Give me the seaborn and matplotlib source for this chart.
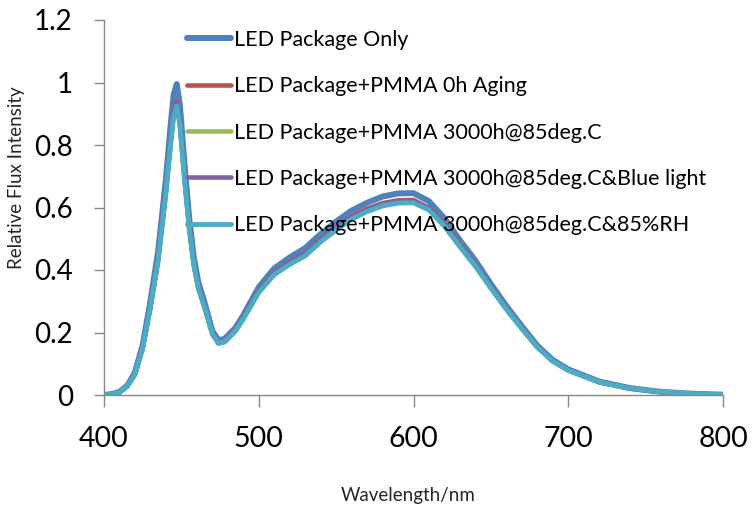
import matplotlib
matplotlib.use("Agg")
import matplotlib.pyplot as plt
import seaborn as sns
import pandas as pd

# wavelengths (nm)
wavelength = [400, 405, 410, 415, 420, 425, 430, 435, 440, 443, 445, 447, 449, 452, 455,
              458, 461, 465, 470, 474, 478, 485, 490, 500, 510, 520, 530, 540, 550, 560,
              570, 580, 590, 600, 610, 620, 630, 640, 650, 660, 670, 680, 690, 700, 720,
              740, 760, 780, 800]

led_only = [0.0, 0.003, 0.010, 0.030, 0.072, 0.160, 0.300, 0.460, 0.690, 0.860, 0.960, 0.995,
            0.930, 0.740, 0.570, 0.440, 0.360, 0.295, 0.205, 0.175, 0.180, 0.215, 0.255, 0.345,
            0.405, 0.440, 0.470, 0.515, 0.555, 0.590, 0.615, 0.635, 0.645, 0.646, 0.620, 0.565,
            0.495, 0.430, 0.355, 0.285, 0.220, 0.158, 0.112, 0.082, 0.043, 0.022, 0.010, 0.004,
            0.001]

pmma_0h = [0.0, 0.003, 0.009, 0.028, 0.067, 0.152, 0.283, 0.435, 0.655, 0.812, 0.905, 0.940,
           0.875, 0.700, 0.542, 0.420, 0.344, 0.283, 0.197, 0.166, 0.172, 0.208, 0.247, 0.334,
           0.391, 0.425, 0.452, 0.497, 0.536, 0.572, 0.596, 0.614, 0.623, 0.624, 0.599, 0.547,
           0.481, 0.416, 0.345, 0.276, 0.214, 0.154, 0.109, 0.080, 0.041, 0.021, 0.010, 0.004,
           0.001]

pmma_85c = [0.0, 0.003, 0.009, 0.028, 0.066, 0.150, 0.281, 0.431, 0.648, 0.803, 0.895, 0.930,
            0.868, 0.693, 0.537, 0.416, 0.341, 0.280, 0.195, 0.165, 0.170, 0.205, 0.244, 0.329,
            0.386, 0.419, 0.447, 0.492, 0.530, 0.565, 0.589, 0.607, 0.616, 0.617, 0.593, 0.541,
            0.476, 0.413, 0.343, 0.275, 0.213, 0.153, 0.108, 0.079, 0.041, 0.021, 0.010, 0.004,
            0.001]

pmma_85c_blue = [0.0, 0.003, 0.009, 0.028, 0.067, 0.151, 0.282, 0.433, 0.651, 0.807, 0.900, 0.935,
                 0.871, 0.697, 0.540, 0.418, 0.343, 0.282, 0.196, 0.166, 0.171, 0.207, 0.246, 0.332,
                 0.389, 0.423, 0.450, 0.495, 0.534, 0.569, 0.593, 0.611, 0.620, 0.621, 0.597, 0.544,
                 0.478, 0.415, 0.344, 0.276, 0.213, 0.154, 0.108, 0.079, 0.041, 0.021, 0.010, 0.004,
                 0.001]

pmma_85c_rh = [0.0, 0.003, 0.009, 0.028, 0.067, 0.150, 0.280, 0.430, 0.645, 0.800, 0.890, 0.925,
               0.865, 0.690, 0.535, 0.415, 0.340, 0.280, 0.195, 0.165, 0.170, 0.205, 0.243, 0.328,
               0.385, 0.418, 0.445, 0.490, 0.528, 0.563, 0.587, 0.605, 0.614, 0.615, 0.592, 0.540,
               0.474, 0.412, 0.342, 0.274, 0.212, 0.153, 0.108, 0.079, 0.041, 0.021, 0.010, 0.004,
               0.001]

labels = ["LED Package Only",
          "LED Package+PMMA 0h Aging",
          "LED Package+PMMA 3000h@85deg.C",
          "LED Package+PMMA 3000h@85deg.C&Blue light",
          "LED Package+PMMA 3000h@85deg.C&85%RH"]
series = [led_only, pmma_0h, pmma_85c, pmma_85c_blue, pmma_85c_rh]
colors = ["#4F81BD", "#C0504D", "#9BBB59", "#8064A2", "#4BACC6"]
widths = [4.3, 3.3, 3.3, 3.3, 3.5]
x_ticks = [400, 500, 600, 700, 800]
y_ticks = [0, 0.2, 0.4, 0.6, 0.8, 1.0, 1.2]
y_tick_labels = ["0", "0.2", "0.4", "0.6", "0.8", "1", "1.2"]

sns.set_style("white")
plt.rcParams["font.family"] = ["Lato", "DejaVu Sans"]

fig = plt.figure(figsize=(7.52, 5.08), dpi=100)
ax = fig.add_axes([104 / 752, 1 - 395 / 508, 619 / 752, 375 / 508])

for lab, vals, col, lw in zip(labels, series, colors, widths):
    df = pd.DataFrame({"wl": wavelength, "flux": vals})
    sns.lineplot(data=df, x="wl", y="flux", ax=ax, color=col, linewidth=lw,
                 label=lab, solid_joinstyle="round", solid_capstyle="round")

ax.set_xlim(400, 800)
ax.set_ylim(0, 1.2)
ax.set_xticks(x_ticks)
ax.set_yticks(y_ticks)
ax.set_yticklabels(y_tick_labels)
ax.set_xlabel("")
ax.set_ylabel("")

for side in ["top", "right"]:
    ax.spines[side].set_visible(False)
for side in ["left", "bottom"]:
    ax.spines[side].set_color("#878787")
    ax.spines[side].set_linewidth(1.0)

ax.tick_params(axis="x", direction="out", length=8.5, width=1.0, color="#878787",
               labelsize=20.5, pad=14, labelcolor="black")
ax.tick_params(axis="y", direction="out", length=7.5, width=1.0, color="#878787",
               labelsize=20, pad=15, labelcolor="black")
ax.tick_params(bottom=True, left=True)

fig.text(408 / 752, 1 - 501.5 / 508, "Wavelength/nm", ha="center", va="baseline",
         fontsize=13.5)
fig.text(16.5 / 752, 1 - 178 / 508, "Relative Flux Intensity", ha="center", va="center",
         rotation=90, fontsize=13.5)

leg = ax.legend(loc="upper left", bbox_to_anchor=(187 / 752, 1 - 30 / 508),
                bbox_transform=fig.transFigure, frameon=False, fontsize=15.5,
                handlelength=2.05, handletextpad=0.15, labelspacing=1.22,
                borderpad=0, borderaxespad=0)
for txt in leg.get_texts():
    txt.set_color("black")

fig.savefig("out.png", dpi=100)
